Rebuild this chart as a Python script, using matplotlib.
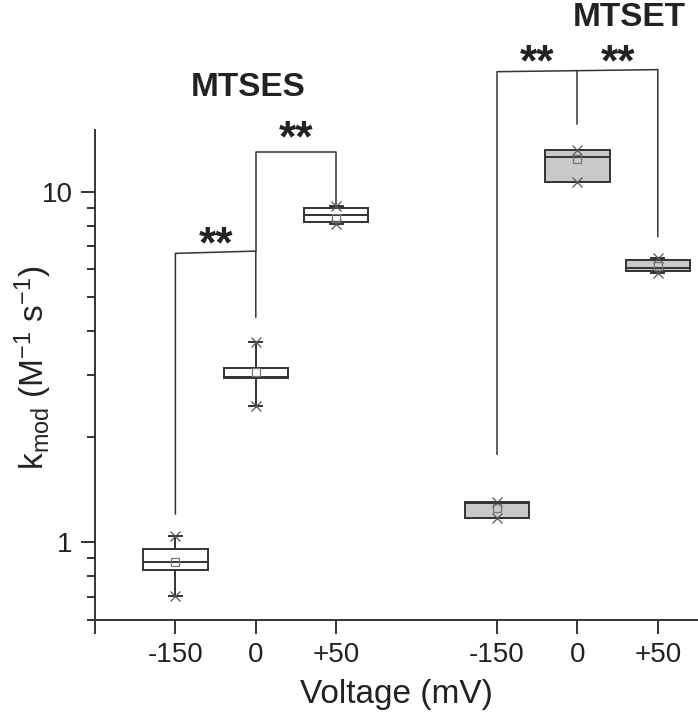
import numpy as np
import matplotlib
matplotlib.use("Agg")
import matplotlib.pyplot as plt
from matplotlib.ticker import LogLocator, NullFormatter, FixedLocator

plt.rcParams['font.family'] = ['Liberation Sans', 'DejaVu Sans']
plt.rcParams['mathtext.fontset'] = 'custom'
plt.rcParams['mathtext.rm'] = 'Liberation Sans'
plt.rcParams['mathtext.it'] = 'Liberation Sans'

# box positions and labels
positions = [1, 2, 3, 5, 6, 7]
tick_labels = ['-150', '0', '+50', '-150', '0', '+50']
groups = ['MTSES', 'MTSES', 'MTSES', 'MTSET', 'MTSET', 'MTSET']

# k_mod values (M^-1 s^-1)
q1 = [0.834, 2.94, 8.18, 1.173, 10.66, 5.93]
med = [0.879, 2.96, 8.56, 1.294, 12.6, 6.05]
q3 = [0.957, 3.15, 8.97, 1.303, 13.15, 6.37]
kmean = [0.879, 3.06, 8.39, 1.252, 12.36, 6.13]
kmin = [0.703, 2.445, 8.07, 1.173, 10.66, 5.85]
kmax = [1.042, 3.72, 9.09, 1.303, 13.15, 6.46]

box_colors = {'MTSES': 'white', 'MTSET': '#c9c9c9'}
line_col = '#333333'

fig = plt.figure(figsize=(6.98, 7.2), dpi=100)
ax = fig.add_axes([95 / 698, 100 / 720, 603 / 698, 490 / 720])

stats = []
for i in range(len(positions)):
    stats.append(dict(med=med[i], q1=q1[i], q3=q3[i], whislo=kmin[i], whishi=kmax[i],
                      mean=kmean[i], fliers=[]))

bp = ax.bxp(stats, positions=positions, widths=0.8, patch_artist=True, showmeans=True,
            capwidths=0.16,
            boxprops=dict(edgecolor=line_col, linewidth=1.4),
            medianprops=dict(color=line_col, linewidth=1.4),
            whiskerprops=dict(color=line_col, linewidth=1.4),
            capprops=dict(color=line_col, linewidth=1.4),
            meanprops=dict(marker='s', markerfacecolor='none', markeredgecolor='#777777',
                           markersize=6, markeredgewidth=0.9))
for patch, g in zip(bp['boxes'], groups):
    patch.set_facecolor(box_colors[g])

ax.plot(positions, kmin, ls='none', marker='x', color='#555555', ms=7, mew=0.9)
ax.plot(positions, kmax, ls='none', marker='x', color='#555555', ms=7, mew=0.9)

ax.set_yscale('log')
ax.set_ylim(0.6, 15)
ax.set_xlim(0, 7.5)

ax.yaxis.set_major_locator(FixedLocator([1, 10]))
ax.set_yticklabels(['1', '10'])
ax.yaxis.set_minor_locator(LogLocator(base=10, subs=np.arange(2, 10)))
ax.yaxis.set_minor_formatter(NullFormatter())

ax.set_xticks([0] + positions)
ax.set_xticklabels([''] + tick_labels)

ax.spines['top'].set_visible(False)
ax.spines['right'].set_visible(False)
for s in ['left', 'bottom']:
    ax.spines[s].set_linewidth(1.4)
    ax.spines[s].set_color(line_col)

ax.tick_params(axis='both', which='major', direction='out', length=10, width=1.4,
               color=line_col, labelsize=20, labelcolor='#222222', pad=6)
ax.tick_params(axis='y', which='minor', direction='out', length=6, width=1.4, color=line_col)

ax.set_xlabel('Voltage (mV)', fontsize=24, color='#222222', labelpad=8)
ax.set_ylabel(r'k$_{\mathrm{mod}}$ (M$^{\mathrm{-1}}$ s$^{\mathrm{-1}}$)', fontsize=24,
              color='#222222')
ax.yaxis.set_label_coords(-0.068, 0.514)

# significance brackets
br = dict(color=line_col, lw=1.1, clip_on=False)
ax.plot([1, 1, 2, 2], [1.204, 6.67, 6.77, 4.39], **br)
ax.plot([2, 2, 3, 3], [6.77, 13.0, 13.0, 9.2], **br)
ax.plot([5, 5, 7, 7], [1.785, 22.0, 22.3, 7.45], **br)
ax.plot([6, 6], [22.15, 15.65], **br)

star = dict(fontsize=32, fontweight='bold', ha='center', va='center', color='#222222')
ax.text(1.5, 7.0, '**', **star)
ax.text(2.5, 14.1, '**', **star)
ax.text(5.5, 23.2, '**', **star)
ax.text(6.5, 23.2, '**', **star)

ax.text(1.9, 18.7, 'MTSES', fontsize=24, fontweight='bold', ha='center', va='baseline',
        color='#222222')
ax.text(6.65, 29.8, 'MTSET', fontsize=24, fontweight='bold', ha='center', va='baseline',
        color='#222222')

fig.savefig('out.png', dpi=100)
